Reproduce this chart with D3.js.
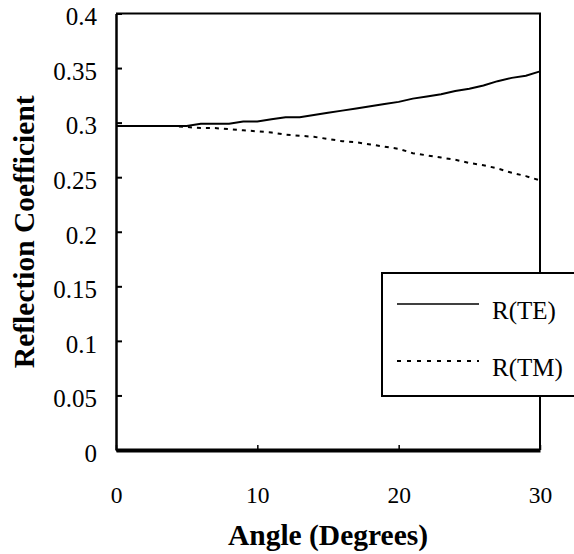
<!DOCTYPE html>
<html>
<head>
<meta charset="utf-8">
<script src="https://cdn.jsdelivr.net/npm/d3@7"></script>
<style>
  body { margin: 0; background: #fff; }
  svg { display: block; }
  text { font-family: "Liberation Serif", "Times New Roman", serif; fill: #000; }
</style>
</head>
<body>
<svg class="chart"></svg>
<script>
// angle in degrees, 0..30
var angles = d3.range(0, 31);
var rTE = [0.297, 0.297, 0.297, 0.297, 0.297, 0.297, 0.299, 0.299, 0.299, 0.301,
           0.301, 0.303, 0.305, 0.305, 0.307, 0.309, 0.311, 0.313, 0.315, 0.317,
           0.319, 0.322, 0.324, 0.326, 0.329, 0.331, 0.334, 0.338, 0.341, 0.343, 0.347];
var rTM = [0.297, 0.297, 0.297, 0.297, 0.297, 0.296, 0.295, 0.295, 0.294, 0.293,
           0.292, 0.291, 0.289, 0.288, 0.287, 0.285, 0.283, 0.282, 0.280, 0.278,
           0.276, 0.272, 0.270, 0.268, 0.266, 0.263, 0.261, 0.258, 0.254, 0.251, 0.247];
var xTicks = [0, 10, 20, 30];
var yTicks = [0, 0.05, 0.1, 0.15, 0.2, 0.25, 0.3, 0.35, 0.4];
var seriesNames = ["R(TE)", "R(TM)"];

var width = 574, height = 554;
var plotLeft = 116, plotRight = 540, plotTop = 13.5, plotBottom = 450;

var svg = d3.select(".chart").attr("width", width).attr("height", height);

var x = d3.scaleLinear().domain([0, 30]).range([plotLeft, plotRight]);
var y = d3.scaleLinear().domain([0, 0.4]).range([plotBottom, plotTop]);

// plot border (top + right)
svg.append("path")
  .attr("d", "M" + plotLeft + "," + plotTop + "H" + plotRight + "V" + plotBottom)
  .attr("fill", "none").attr("stroke", "#000").attr("stroke-width", 2);

// y axis
var yAxis = svg.append("g")
  .attr("transform", "translate(" + plotLeft + ",0)")
  .call(d3.axisLeft(y).tickValues(yTicks).tickSize(-6).tickSizeOuter(0).tickPadding(19)
        .tickFormat(function(d) { return String(+d.toFixed(2)); }));
yAxis.select(".domain").attr("stroke-width", 2.5);
yAxis.selectAll(".tick line").attr("stroke-width", 2);
yAxis.selectAll("text").style("font-size", "25px").attr("dy", "0.45em");

// x axis
var xAxis = svg.append("g")
  .attr("transform", "translate(0," + plotBottom + ")")
  .call(d3.axisBottom(x).tickValues(xTicks).tickSize(-5).tickSizeOuter(0).tickPadding(36));
xAxis.select(".domain").attr("stroke-width", 4);
xAxis.selectAll(".tick line").attr("stroke-width", 1.5);
xAxis.selectAll("text").style("font-size", "23.5px");
svg.selectAll(".domain, .tick line").attr("stroke", "#000");

// lines
var line = d3.line()
  .x(function(d, i) { return x(angles[i]); })
  .y(function(d) { return y(d); });

svg.append("path").datum(rTE)
  .attr("d", line).attr("fill", "none").attr("stroke", "#000").attr("stroke-width", 2);
svg.append("path").datum(rTM)
  .attr("d", line).attr("fill", "none").attr("stroke", "#000").attr("stroke-width", 2)
  .attr("stroke-dasharray", "4,5");

// axis titles
svg.append("text")
  .attr("x", (plotLeft + plotRight) / 2).attr("y", 545)
  .attr("text-anchor", "middle")
  .style("font-size", "29.5px").style("font-weight", "bold")
  .text("Angle (Degrees)");

svg.append("text")
  .attr("transform", "translate(34," + ((plotTop + plotBottom) / 2) + ") rotate(-90)")
  .attr("text-anchor", "middle")
  .style("font-size", "29.5px").style("font-weight", "bold")
  .text("Reflection Coefficient");

// legend
var legend = svg.append("g");
legend.append("rect")
  .attr("x", 382).attr("y", 273).attr("width", 220).attr("height", 123)
  .attr("fill", "#fff").attr("stroke", "#000").attr("stroke-width", 2);

var legendY = [304, 361];
seriesNames.forEach(function(name, i) {
  legend.append("line")
    .attr("x1", 397).attr("x2", 479).attr("y1", legendY[i]).attr("y2", legendY[i])
    .attr("stroke", "#000").attr("stroke-width", i === 0 ? 1.5 : 2)
    .attr("stroke-dasharray", i === 0 ? null : "4,6");
  legend.append("text")
    .attr("x", 492).attr("y", legendY[i] + 15)
    .style("font-size", "25px")
    .text(name);
});
</script>
</body>
</html>
